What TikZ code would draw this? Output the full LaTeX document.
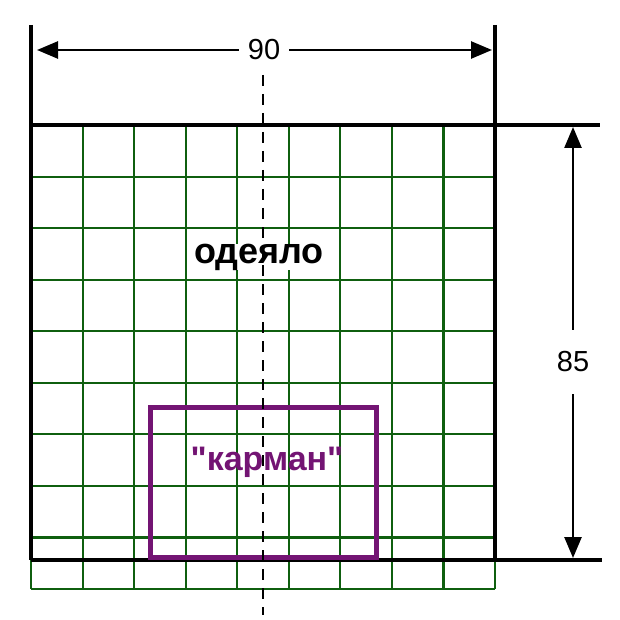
\documentclass[tikz,border=0pt]{standalone}
\usepackage{fontspec}
\setmainfont{Liberation Sans}[Ligatures=TeXOff]
\usetikzlibrary{arrows.meta}
\definecolor{gridgreen}{RGB}{15,95,15}
\definecolor{pocket}{RGB}{115,20,115}
\tikzset{
  gridline/.style={draw=gridgreen,line width=2.1pt},
  edge/.style={draw=black,line width=4pt},
  dimline/.style={draw=black,line width=2.6pt,-{Triangle[length=21pt,width=17pt]}},
  axis/.style={draw=black,line width=2pt,dash pattern=on 11pt off 8pt},
  dimlabel/.style={font=\fontsize{29}{31}\selectfont,fill=white,inner sep=0pt},
}
\begin{document}
\begin{tikzpicture}[x=1pt,y=-1pt]
\fill[white] (0,0) rectangle (620,620);
\useasboundingbox (0,0) rectangle (620,620);
% grid
\foreach \i in {0,...,9} {
  \draw[gridline] ({31+\i*51.56},125) -- ({31+\i*51.56},589);
  \draw[gridline] (31,{125+\i*51.56}) -- (495,{125+\i*51.56});
}
% blanket outline and extension lines
\coordinate (lt) at (31,25);
\coordinate (lb) at (31,560);
\coordinate (rt) at (495,25);
\coordinate (rb) at (495,560);
\coordinate (tl) at (31,125);
\coordinate (tr) at (600,125);
\coordinate (bl) at (31,560);
\coordinate (br) at (602,560);
\draw[edge] (lt) -- (lb);
\draw[edge] (rt) -- (rb);
\draw[edge] (tl) -- (tr);
\draw[edge] (bl) -- (br);
% pocket
\node[draw=pocket,line width=5pt,minimum width=226pt,minimum height=150pt,inner sep=0pt] (pocket) at (263,482) {};
\node[text=pocket,font=\bfseries\fontsize{34}{36}\selectfont] (pockettext) at (267,462) {"карман"};
% blanket label
\node[font=\bfseries\fontsize{36}{38}\selectfont,fill=white,inner xsep=1pt,inner ysep=0pt] (blanket) at (259,257) {одеяло};
% centre axis
\coordinate (axtop) at (263,75);
\coordinate (axbot) at (263,615);
\draw[axis] (axtop) -- (axbot);
% width dimension
\coordinate (wl) at (37,50);
\coordinate (wr) at (492,50);
\node[dimlabel,inner xsep=9pt] (w) at (264,50) {90};
\draw[dimline] (w.west) -- (wl);
\draw[dimline] (w.east) -- (wr);
% height dimension
\coordinate (ht) at (573,127);
\coordinate (hb) at (573,558);
\node[dimlabel,inner ysep=22pt,inner xsep=2pt] (h) at (573,362) {85};
\draw[dimline] (h.north) -- (ht);
\draw[dimline] (h.south) -- (hb);
\end{tikzpicture}
\end{document}
